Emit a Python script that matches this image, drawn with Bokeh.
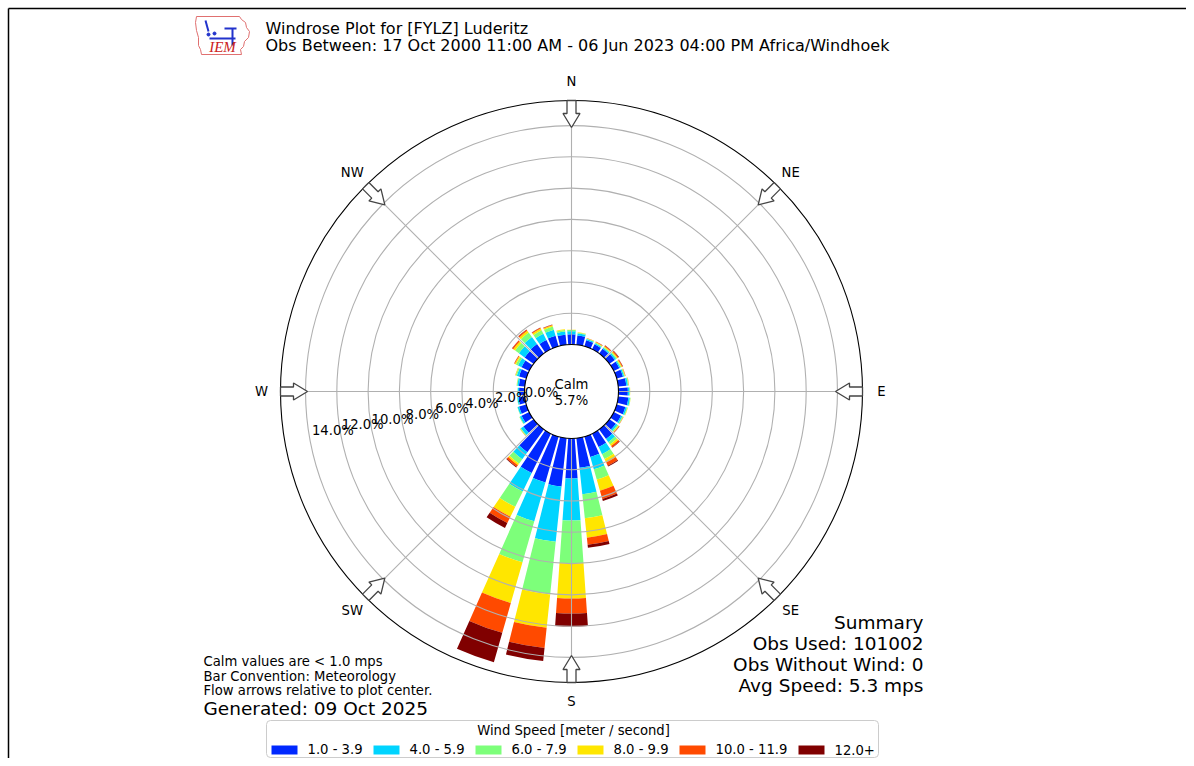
import math
from bokeh.plotting import figure
from bokeh.models import Range1d, ColumnDataSource
from bokeh.core.properties import value
from bokeh.embed import file_html
from bokeh.resources import INLINE

# ---------------- data ----------------
directions = list(range(0, 360, 10))
speed_bins = ["1.0 - 3.9", "4.0 - 5.9", "6.0 - 7.9", "8.0 - 9.9", "10.0 - 11.9", "12.0+"]
speed_colors = ["#0028ff", "#00d4ff", "#7dff7a", "#ffe600", "#ff4a00", "#800000"]

pct_1_4 = [0.65, 0.60, 0.40, 0.35, 0.38, 0.42, 0.40, 0.42, 0.52, 0.60, 0.65, 0.58,
           0.52, 0.50, 0.75, 0.95, 1.35, 1.90, 2.56, 3.10, 3.05, 2.80, 1.80, 0.80,
           0.55, 0.48, 0.40, 0.35, 0.38, 0.48, 0.55, 0.70, 0.75, 0.65, 0.70, 0.65]
pct_4_6 = [0.20, 0.13, 0.08, 0.08, 0.08, 0.10, 0.08, 0.08, 0.10, 0.10, 0.10, 0.10,
           0.10, 0.12, 0.25, 0.50, 0.82, 1.70, 2.68, 3.56, 2.58, 1.30, 0.55, 0.20,
           0.12, 0.10, 0.08, 0.08, 0.10, 0.15, 0.25, 0.45, 0.55, 0.45, 0.40, 0.20]
pct_6_8 = [0.08, 0.05, 0.04, 0.05, 0.06, 0.07, 0.06, 0.05, 0.05, 0.04, 0.04, 0.05,
           0.05, 0.08, 0.18, 0.35, 0.68, 1.55, 2.75, 3.38, 2.73, 1.10, 0.35, 0.05,
           0.03, 0.02, 0.02, 0.02, 0.04, 0.07, 0.15, 0.30, 0.35, 0.25, 0.22, 0.10]
pct_8_10 = [0.02, 0.02, 0.02, 0.04, 0.05, 0.06, 0.05, 0.03, 0.02, 0.01, 0.01, 0.02,
            0.02, 0.05, 0.12, 0.25, 0.74, 1.24, 2.24, 2.15, 2.71, 0.70, 0.12, 0.02,
            0.01, 0.00, 0.00, 0.00, 0.01, 0.03, 0.08, 0.15, 0.15, 0.12, 0.08, 0.04]
pct_10_12 = [0.00, 0.00, 0.01, 0.03, 0.06, 0.07, 0.05, 0.02, 0.01, 0.00, 0.00, 0.00,
             0.01, 0.03, 0.12, 0.22, 0.55, 0.45, 0.96, 1.30, 1.98, 0.45, 0.13, 0.01,
             0.00, 0.00, 0.00, 0.00, 0.00, 0.01, 0.04, 0.08, 0.08, 0.06, 0.04, 0.01]
pct_12_up = [0.00, 0.00, 0.00, 0.01, 0.02, 0.03, 0.02, 0.00, 0.00, 0.00, 0.00, 0.00,
             0.00, 0.01, 0.03, 0.06, 0.13, 0.20, 0.83, 0.83, 1.95, 0.35, 0.05, 0.00,
             0.00, 0.00, 0.00, 0.00, 0.00, 0.00, 0.01, 0.02, 0.02, 0.01, 0.01, 0.00]
speed_series = [pct_1_4, pct_4_6, pct_6_8, pct_8_10, pct_10_12, pct_12_up]

radial_ticks = [0, 2, 4, 6, 8, 10, 12, 14]
compass_labels = ["N", "NE", "E", "SE", "S", "SW", "W", "NW"]
compass_angles = [0, 45, 90, 135, 180, 225, 270, 315]
calm_pct = 5.7

title_lines = ["Windrose Plot for [FYLZ] Luderitz",
               "Obs Between: 17 Oct 2000 11:00 AM - 06 Jun 2023 04:00 PM Africa/Windhoek"]
summary_lines = ["Summary", "Obs Used: 101002", "Obs Without Wind: 0", "Avg Speed: 5.3 mps"]
note_lines = ["Calm values are < 1.0 mps", "Bar Convention: Meteorology",
              "Flow arrows relative to plot center."]
generated_text = "Generated: 09 Oct 2025"
legend_title = "Wind Speed [meter / second]"

# ---------------- layout ----------------
W, H = 1186, 758
FONT = value("DejaVu Sans")


def sx(x):
    return x


def sy(y):
    return H - y


CX, CY = sx(571), sy(391)
K = 15.64               # px per percent
R0 = 47.0 / K           # radial origin offset (calm circle), in percent units
RMAX = 291.0 / K        # outer circle

p = figure(width=W, height=H, x_range=Range1d(0, W), y_range=Range1d(0, H),
           output_backend="svg", toolbar_location=None,
           x_axis_type=None, y_axis_type=None, min_border=0)
p.outline_line_color = None
p.background_fill_color = "white"
p.border_fill_color = "white"
for g in p.grid:
    g.visible = False

p.extra_x_ranges = {"pol": Range1d(-CX / K, (W - CX) / K)}
p.extra_y_ranges = {"pol": Range1d(-CY / K, (H - CY) / K)}

# ---- bars ----
half_w = 4.0
cum = [0.0] * len(directions)
for series, color in zip(speed_series, speed_colors):
    inner, outer, start, end = [], [], [], []
    for i, d in enumerate(directions):
        v = series[i]
        if v <= 0:
            continue
        inner.append(R0 + cum[i])
        outer.append(R0 + cum[i] + v)
        start.append(math.radians(90 - d - half_w))
        end.append(math.radians(90 - d + half_w))
        cum[i] += v
    src = ColumnDataSource(dict(inner=inner, outer=outer, start=start, end=end))
    p.annular_wedge(x=0, y=0, inner_radius="inner", outer_radius="outer",
                    start_angle="start", end_angle="end", source=src,
                    fill_color=color, line_color=None,
                    x_range_name="pol", y_range_name="pol")

# ---- grid ----
grid_r = [R0 + t for t in radial_ticks[1:]]
p.circle(x=[0] * len(grid_r), y=[0] * len(grid_r), radius=grid_r,
         fill_color=None, line_color="#b0b0b0", line_width=1.1,
         x_range_name="pol", y_range_name="pol")
sp_x0 = [R0 * math.sin(math.radians(a)) for a in compass_angles]
sp_y0 = [R0 * math.cos(math.radians(a)) for a in compass_angles]
sp_x1 = [RMAX * math.sin(math.radians(a)) for a in compass_angles]
sp_y1 = [RMAX * math.cos(math.radians(a)) for a in compass_angles]
p.segment(x0=sp_x0, y0=sp_y0, x1=sp_x1, y1=sp_y1, line_color="#b0b0b0",
          line_width=1.1, x_range_name="pol", y_range_name="pol")
p.circle(x=[0, 0], y=[0, 0], radius=[R0, RMAX], fill_color=None,
         line_color="black", line_width=1.1, x_range_name="pol", y_range_name="pol")

# ---- compass arrows ----
arrow_local = [(264, 0), (278, 8.5), (278, 4.5), (291, 4.5), (291, -4.5), (278, -4.5), (278, -8.5)]
axs, ays = [], []
for a in compass_angles:
    t = math.radians(a)
    xs_, ys_ = [], []
    for u, v in arrow_local:
        xs_.append(CX + u * math.sin(t) + v * math.cos(t))
        ys_.append(CY + u * math.cos(t) - v * math.sin(t))
    axs.append(xs_)
    ays.append(ys_)
p.patches(xs=axs, ys=ays, fill_color="white", line_color="#444444", line_width=1.3)

# ---- compass labels ----
lx = [CX + 310 * math.sin(math.radians(a)) for a in compass_angles]
ly = [CY + 310 * math.cos(math.radians(a)) for a in compass_angles]
p.text(x=lx, y=ly, text=compass_labels, text_font=FONT, text_font_size=value("13.2px"),
       text_align="center", text_baseline="middle", text_color="black")

# ---- radial labels ----
rl_x = [sx(541 - 14.9 * t) for t in radial_ticks]
rl_y = [sy(392 + 2.7 * t) for t in radial_ticks]
p.text(x=rl_x, y=rl_y, text=["%.1f%%" % t for t in radial_ticks], text_font=FONT,
       text_font_size=value("13.2px"), text_align="center", text_baseline="middle",
       text_color="black")

# ---- calm ----
p.text(x=[CX, CX], y=[sy(384), sy(400)], text=["Calm", "%.1f%%" % calm_pct],
       text_font=FONT, text_font_size=value("13.2px"), text_align="center",
       text_baseline="middle", text_color="black")

# ---- titles ----
p.text(x=[sx(265), sx(265)], y=[sy(28), sy(45)], text=title_lines, text_font=FONT,
       text_font_size=value("16px"), text_align="left", text_baseline="middle",
       text_color="black")

# ---- summary ----
p.text(x=[sx(923)] * 4, y=[sy(622), sy(643), sy(664), sy(685)], text=summary_lines,
       text_font=FONT, text_font_size=value("18.5px"), text_align="right",
       text_baseline="middle", text_color="black")

# ---- notes ----
p.text(x=[sx(203)] * 3, y=[sy(661), sy(676), sy(690)], text=note_lines, text_font=FONT,
       text_font_size=value("13.2px"), text_align="left", text_baseline="middle",
       text_color="black")
p.text(x=[sx(203)], y=[sy(708)], text=[generated_text], text_font=FONT,
       text_font_size=value("18.5px"), text_align="left", text_baseline="middle",
       text_color="black")

# ---- legend ----
p.quad(left=[sx(266)], right=[sx(878)], top=[sy(720)], bottom=[sy(757)],
       fill_color="white", line_color="#cccccc", line_width=1, border_radius=4)
p.text(x=[sx(573)], y=[sy(730)], text=[legend_title], text_font=FONT,
       text_font_size=value("13.2px"), text_align="center", text_baseline="middle",
       text_color="black")
legend_x = [271, 373, 475, 577, 679, 798]
p.quad(left=[sx(x) for x in legend_x], right=[sx(x + 26) for x in legend_x],
       top=[sy(745)] * 6, bottom=[sy(754)] * 6, fill_color=speed_colors, line_color=None)
p.text(x=[sx(x + 36) for x in legend_x], y=[sy(749)] * 6, text=speed_bins,
       text_font=FONT, text_font_size=value("13.2px"), text_align="left",
       text_baseline="middle", text_color="black")

# ---- IEM logo ----
iowa = [(196, 16), (239, 16), (241, 19), (245, 22), (246, 27), (249, 31), (248, 37),
        (244, 41), (243, 46), (240, 49), (241, 54), (201, 54), (200, 49), (198, 45),
        (198, 37), (196, 30), (195, 22), (196, 16)]
p.line(x=[sx(a) for a, b in iowa], y=[sy(b) for a, b in iowa], line_color="#e07070",
       line_width=1)
p.segment(x0=[sx(205), sx(209), sx(224), sx(232)], y0=[sy(20), sy(38), sy(28), sy(28)],
          x1=[sx(208), sx(235), sx(236), sx(232)], y1=[sy(31), sy(38), sy(28), sy(45)],
          line_color="#2233cc", line_width=2)
p.scatter(x=[sx(208), sx(214)], y=[sy(34), sy(33)], size=3, color="#2233cc")
p.text(x=[sx(222)], y=[sy(46)], text=["IEM"], text_font=value("Liberation Serif"),
       text_font_style="italic", text_font_size=value("15px"), text_align="center",
       text_baseline="middle", text_color="#cc2222")

# ---- border (top/left) ----
p.segment(x0=[sx(8), sx(8)], y0=[0, sy(8)], x1=[sx(8), W], y1=[sy(8), sy(8)],
          line_color="black", line_width=1.5)

open("out.html", "w").write(file_html(p, INLINE))
